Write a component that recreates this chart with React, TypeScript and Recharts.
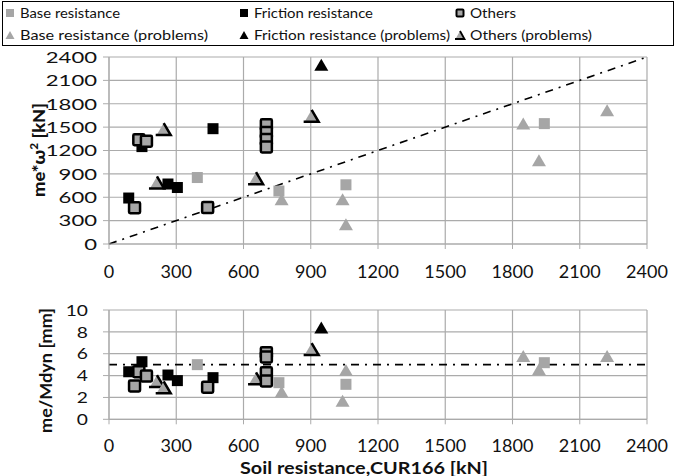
import React from 'react';
import { ScatterChart, Scatter, XAxis, YAxis, CartesianGrid, ReferenceLine, Label } from 'recharts';

// soil resistance ticks (kN) and the two y scales
const xTicks = [0, 300, 600, 900, 1200, 1500, 1800, 2100, 2400];
const topTicks = [0, 300, 600, 900, 1200, 1500, 1800, 2100, 2400];
const bottomTicks = [0, 2, 4, 6, 8, 10];

// Base resistance
const baseX = [394, 758, 1057, 1942];
const baseTop = [853, 680, 760, 1545];
const baseBottom = [5.0, 3.35, 3.2, 5.18];

// Base resistance (problems)
const baseProbX = [770, 1042, 1057, 1848, 1918, 2222];
const baseProbTop = [575, 575, 255, 1545, 1075, 1715];
const baseProbBottom = [2.53, 1.7, 4.5, 5.79, 4.57, 5.79];

// Friction resistance
const fricX = [88, 147, 263, 305, 464];
const fricTop = [590, 1250, 770, 725, 1480];
const fricBottom = [4.35, 5.27, 4.05, 3.54, 3.81];

// Friction resistance (problems)
const fricProbX = [947];
const fricProbTop = [2300];
const fricProbBottom = [8.41];

// Others
const othX = [114, 133, 167, 440, 702, 702, 702, 702];
const othTop = [465, 1338, 1318, 467, 1530, 1430, 1340, 1245];
const othBottom = [3.05, 4.36, 3.96, 2.93, 6.1, 5.7, 4.25, 3.5];

// Others (problems)
const othProbX = [214, 244, 656, 904];
const othProbTop = [790, 1475, 845, 1645];
const othProbBottom = [3.5, 2.93, 3.75, 6.43];

const GRAY = '#a6a6a6';
const GRID = '#ababab';
const FONT = 'Lato, "Open Sans", sans-serif';

const pts = (xs: number[], ys: number[]) => xs.map((x, i) => ({ x, y: ys[i] }));

const square = (fill: string) => (p: any) => (
  <rect x={p.cx - 5.5} y={p.cy - 5.5} width={11} height={11} fill={fill} />
);
const othersSquare = (p: any) => (
  <rect x={p.cx - 5.5} y={p.cy - 5.5} width={11} height={11} rx={1.2} fill={GRAY} stroke="#000" strokeWidth={2.5} />
);
const triangle = (fill: string) => (p: any) => (
  <polygon points={`${p.cx},${p.cy - 6} ${p.cx - 7},${p.cy + 6} ${p.cx + 7},${p.cy + 6}`} fill={fill} />
);
const othersTriangle = (p: any) => (
  <g>
    <polygon points={`${p.cx},${p.cy - 6} ${p.cx - 7},${p.cy + 6} ${p.cx + 7},${p.cy + 6}`} fill={GRAY} />
    <polyline
      points={`${p.cx},${p.cy - 6} ${p.cx + 7},${p.cy + 6} ${p.cx - 8},${p.cy + 6}`}
      fill="none"
      stroke="#000"
      strokeWidth={2.5}
    />
  </g>
);

const xTick = (off: number) => (p: any) => (
  <text x={p.x} y={p.y + off} dy="0.36em" textAnchor="middle" fontSize={18} fontFamily={FONT} fill="#111">
    {p.payload.value}
  </text>
);
const yTick = (sx: number) => (p: any) => (
  <text
    transform={`translate(${p.x},${p.y}) scale(${sx},1)`}
    dy="0.36em"
    textAnchor="end"
    fontSize={16}
    fontFamily={FONT}
    fill="#111"
  >
    {p.payload.value}
  </text>
);

const series = (which: 'top' | 'bottom') => {
  const t = which === 'top';
  return [
    <Scatter key="b" data={pts(baseX, t ? baseTop : baseBottom)} shape={square(GRAY)} isAnimationActive={false} />,
    <Scatter key="bp" data={pts(baseProbX, t ? baseProbTop : baseProbBottom)} shape={triangle(GRAY)} isAnimationActive={false} />,
    <Scatter key="f" data={pts(fricX, t ? fricTop : fricBottom)} shape={square('#000')} isAnimationActive={false} />,
    <Scatter key="fp" data={pts(fricProbX, t ? fricProbTop : fricProbBottom)} shape={triangle('#000')} isAnimationActive={false} />,
    <Scatter key="op" data={pts(othProbX, t ? othProbTop : othProbBottom)} shape={othersTriangle} isAnimationActive={false} />,
    <Scatter key="o" data={pts(othX, t ? othTop : othBottom)} shape={othersSquare} isAnimationActive={false} />,
  ];
};

const legendItems = [
  { label: 'Base resistance', x: 20, row: 0, w: 100, mark: 'sq', fill: GRAY },
  { label: 'Base resistance (problems)', x: 20, row: 1, w: 188, mark: 'tri', fill: GRAY },
  { label: 'Friction resistance', x: 254, row: 0, w: 119, mark: 'sq', fill: '#000' },
  { label: 'Friction resistance (problems)', x: 254, row: 1, w: 196, mark: 'tri', fill: '#000' },
  { label: 'Others', x: 470, row: 0, w: 46, mark: 'osq', fill: GRAY },
  { label: 'Others (problems)', x: 470, row: 1, w: 122, mark: 'otri', fill: GRAY },
];

const LegendBox = () => (
  <svg width={688} height={48} style={{ position: 'absolute', left: 0, top: 0 }}>
    <rect x={2.5} y={1.5} width={671} height={44} fill="#fff" stroke="#000" strokeWidth={1} />
    {legendItems.map((it) => {
      const cy = it.row === 0 ? 13 : 35;
      const cx = it.x - 10;
      let m;
      if (it.mark === 'sq') m = <rect x={cx - 4} y={cy - 4} width={8} height={8} fill={it.fill} />;
      else if (it.mark === 'osq')
        m = <rect x={cx - 3.5} y={cy - 3.5} width={7} height={7} rx={1} fill={GRAY} stroke="#000" strokeWidth={2} />;
      else if (it.mark === 'tri')
        m = <polygon points={`${cx},${cy - 4} ${cx - 4.5},${cy + 4} ${cx + 4.5},${cy + 4}`} fill={it.fill} />;
      else
        m = (
          <g>
            <polygon points={`${cx},${cy - 4} ${cx - 4.5},${cy + 4} ${cx + 4.5},${cy + 4}`} fill={GRAY} />
            <polyline points={`${cx},${cy - 4} ${cx + 4.5},${cy + 4} ${cx - 5},${cy + 4}`} fill="none" stroke="#000" strokeWidth={1.8} />
          </g>
        );
      return (
        <g key={it.label}>
          {m}
          <text x={it.x} y={cy} dy="0.36em" fontSize={13.5} fontFamily={FONT} fill="#111" textLength={it.w} lengthAdjust="spacingAndGlyphs">
            {it.label}
          </text>
        </g>
      );
    })}
  </svg>
);

export default function App() {
  return (
    <div style={{ position: 'absolute', left: 0, top: 0, width: 688, height: 476, background: '#fff' }}>
      <div style={{ position: 'absolute', left: 0, top: 0 }}>
        <ScatterChart width={688} height={290} margin={{ top: 57, right: 41, bottom: 0, left: 0 }}>
          <CartesianGrid stroke={GRID} strokeWidth={1.2} />
          <XAxis
            type="number"
            dataKey="x"
            domain={[0, 2400]}
            ticks={xTicks}
            height={46}
            stroke={GRID}
            tickSize={5}
            tickMargin={0}
            tick={xTick(23)}
            interval={0}
          />
          <YAxis
            type="number"
            dataKey="y"
            domain={[0, 2400]}
            ticks={topTicks}
            width={109}
            stroke={GRID}
            tickSize={6}
            tickMargin={6}
            tick={yTick(1.38)}
            interval={0}
          >
            <Label
              content={() => (
                <text
                  transform="translate(45,150) rotate(-90)"
                  textAnchor="middle"
                  fontSize={17}
                  fontWeight={900}
                  fontFamily={FONT}
                  fill="#111"
                  textLength={94}
                  lengthAdjust="spacingAndGlyphs"
                >
                  me*ω<tspan dy={-7} fontSize={11}>2</tspan><tspan dy={7}> [kN]</tspan>
                </text>
              )}
            />
          </YAxis>
          <ReferenceLine
            segment={[{ x: 0, y: 0 }, { x: 2400, y: 2400 }]}
            stroke="#000"
            strokeWidth={1.6}
            strokeDasharray="8 6 2 6"
          />
          {series('top')}
        </ScatterChart>
      </div>
      <div style={{ position: 'absolute', left: 0, top: 290 }}>
        <ScatterChart width={688} height={186} margin={{ top: 20, right: 41, bottom: 0, left: 0 }}>
          <CartesianGrid stroke={GRID} strokeWidth={1.2} />
          <XAxis
            type="number"
            dataKey="x"
            domain={[0, 2400]}
            ticks={xTicks}
            height={56.7}
            stroke={GRID}
            tickSize={5}
            tickMargin={0}
            tick={xTick(21.5)}
            interval={0}
          >
            <Label
              content={() => (
                <text
                  x={240}
                  y={183.5}
                  fontSize={17.5}
                  fontWeight="bold"
                  fontFamily={FONT}
                  fill="#111"
                  textLength={248}
                  lengthAdjust="spacingAndGlyphs"
                >
                  Soil resistance,CUR166 [kN]
                </text>
              )}
            />
          </XAxis>
          <YAxis
            type="number"
            dataKey="y"
            domain={[0, 10]}
            ticks={bottomTicks}
            width={109}
            stroke={GRID}
            tickSize={6}
            tickMargin={15}
            tick={yTick(1.2)}
            interval={0}
          >
            <Label
              content={() => (
                <text
                  transform="translate(52,80.5) rotate(-90)"
                  textAnchor="middle"
                  fontSize={17}
                  fontWeight="bold"
                  fontFamily={FONT}
                  fill="#111"
                  textLength={125}
                  lengthAdjust="spacingAndGlyphs"
                >
                  me/Mdyn [mm]
                </text>
              )}
            />
          </YAxis>
          <ReferenceLine y={5} stroke="#000" strokeWidth={1.6} strokeDasharray="8 6 2 6" />
          {series('bottom')}
        </ScatterChart>
      </div>
      <LegendBox />
    </div>
  );
}
